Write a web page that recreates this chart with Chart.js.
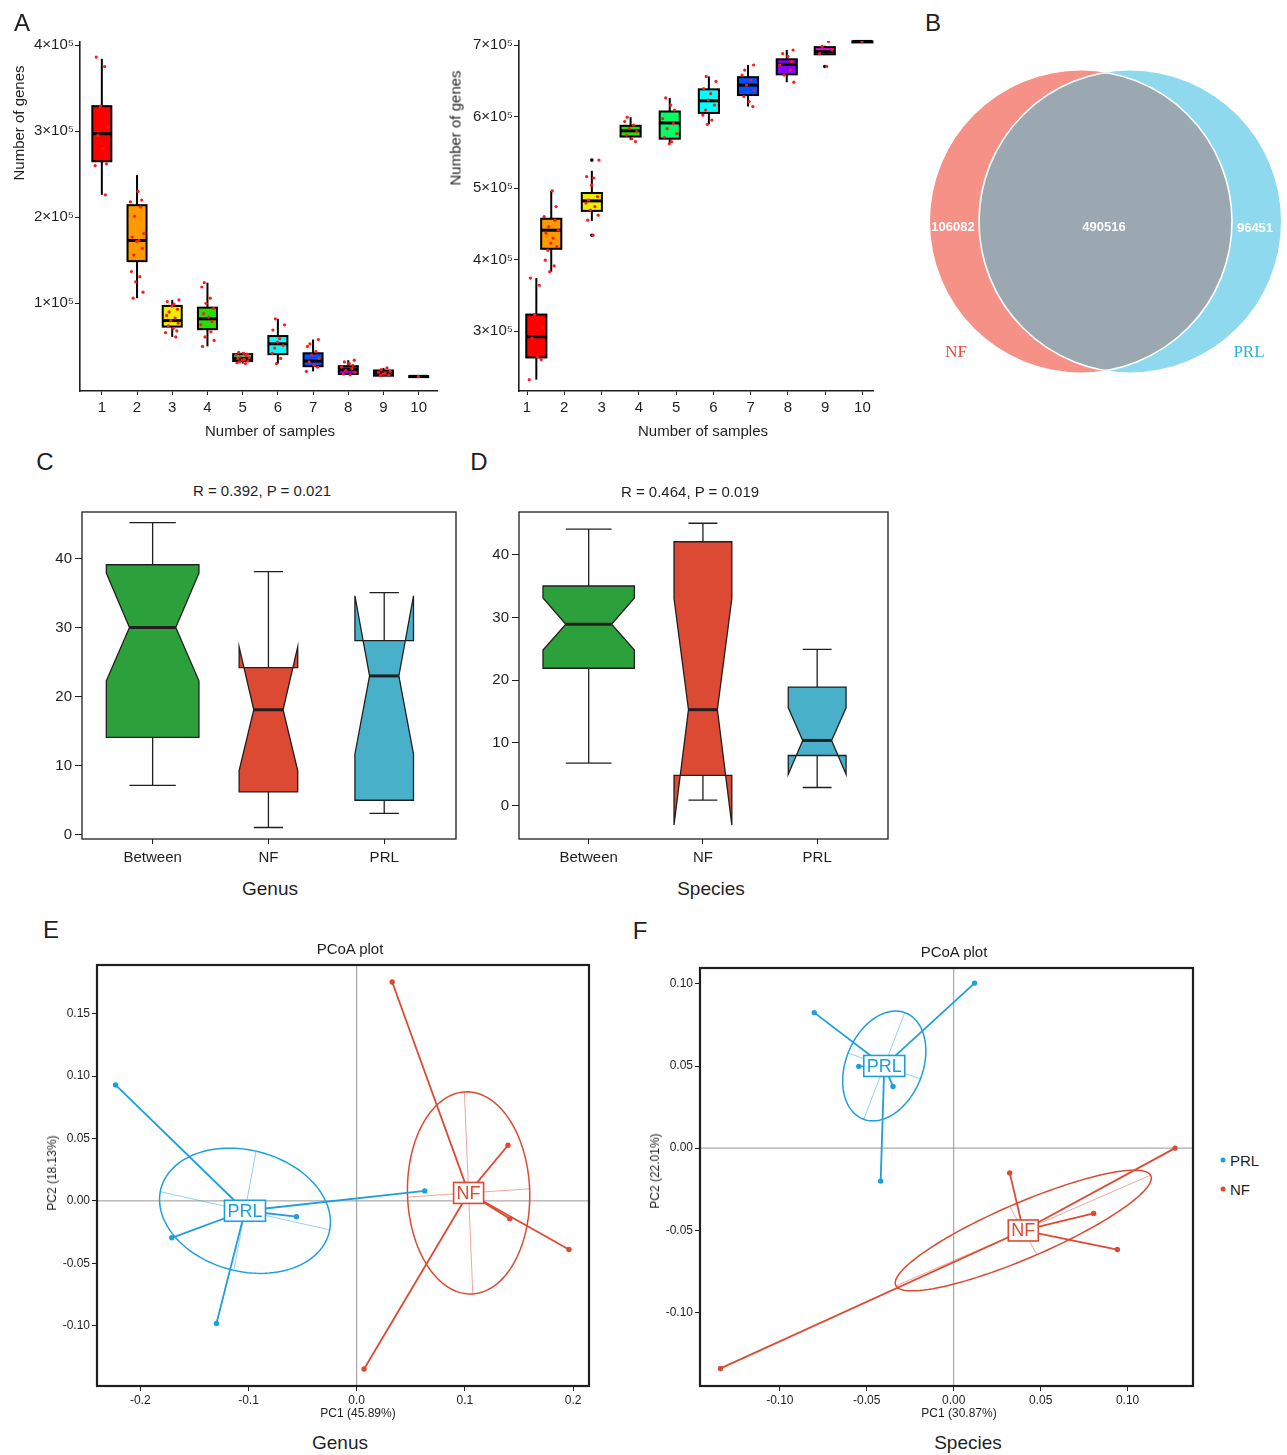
<!DOCTYPE html>
<html>
<head>
<meta charset="utf-8">
<script src="https://cdn.jsdelivr.net/npm/chart.js@4.4.1/dist/chart.umd.min.js"></script>
<style>
  body { margin: 0; background: #fff; width: 1287px; height: 1455px; position: relative; overflow: hidden;
         font-family: "Liberation Sans", Arial, sans-serif; color: #1f1f1f; }
  canvas { position: absolute; }
  .t { position: absolute; white-space: nowrap; line-height: 1; transform: translate(-50%, -50%); }
  .rot { transform: translate(-50%, -50%) rotate(-90deg); }
  .dot { position: absolute; width: 5px; height: 5px; border-radius: 50%; transform: translate(-50%, -50%); }
</style>
</head>
<body>
<canvas id="coreChart" width="445" height="395" style="left:0;top:30px"></canvas>
<canvas id="panChart" width="445" height="395" style="left:440px;top:30px"></canvas>
<canvas id="vennChart" width="372" height="375" style="left:915px;top:40px"></canvas>
<canvas id="genusBox" width="436" height="370" style="left:30px;top:500px"></canvas>
<canvas id="speciesBox" width="434" height="370" style="left:465px;top:500px"></canvas>
<canvas id="genusPcoa" width="560" height="460" style="left:40px;top:955px"></canvas>
<canvas id="speciesPcoa" width="565" height="460" style="left:640px;top:955px"></canvas>

<script>
const FONT = '"Liberation Sans", Arial, sans-serif';
const INK = '#1f1f1f';

// ---------- A: gene counts by number of samples (x 1e5) ----------
const sampleCounts = [1, 2, 3, 4, 5, 6, 7, 8, 9, 10];
const boxColors = ['#ff0000', '#ff9900', '#eeee00', '#22e000', '#00ff66', '#00ffff', '#0050ff', '#8a00ff', '#ff00ee', '#ff0099'];

// [lower whisker, q1, median, q3, upper whisker]
const coreStats = [
  [2.26, 2.65, 2.97, 3.29, 3.84], [1.06, 1.49, 1.73, 2.14, 2.49], [0.61, 0.73, 0.80, 0.97, 1.04],
  [0.50, 0.70, 0.82, 0.95, 1.24], [0.30, 0.33, 0.36, 0.41, 0.43], [0.30, 0.41, 0.53, 0.62, 0.82],
  [0.21, 0.27, 0.33, 0.42, 0.58], [0.17, 0.18, 0.23, 0.27, 0.34], [0.155, 0.16, 0.19, 0.22, 0.25],
  [0.15, 0.15, 0.152, 0.155, 0.155],
];
const coreDots = [
  [3.86, 3.75, 3.29, 3.05, 2.95, 2.80, 2.62, 2.60, 2.26],
  [2.30, 2.20, 2.18, 2.12, 2.01, 1.81, 1.77, 1.73, 1.72, 1.64, 1.56, 1.37, 1.31, 1.25, 1.13, 1.06],
  [1.04, 1.02, 0.99, 0.97, 0.93, 0.90, 0.86, 0.83, 0.80, 0.77, 0.74, 0.71, 0.68, 0.66, 0.61],
  [1.24, 1.19, 1.06, 1.00, 0.94, 0.88, 0.84, 0.79, 0.75, 0.67, 0.61, 0.57, 0.50],
  [0.43, 0.42, 0.41, 0.40, 0.39, 0.38, 0.37, 0.36, 0.35, 0.34, 0.33, 0.32, 0.31, 0.30],
  [0.82, 0.75, 0.69, 0.59, 0.55, 0.51, 0.48, 0.42, 0.36, 0.30],
  [0.58, 0.53, 0.50, 0.44, 0.40, 0.36, 0.32, 0.28, 0.26, 0.21],
  [0.34, 0.32, 0.30, 0.28, 0.26, 0.24, 0.22, 0.20, 0.18, 0.17],
  [0.25, 0.23, 0.21, 0.20, 0.19, 0.18, 0.17, 0.16],
  [0.15],
];
const coreTicks = [1e5, 2e5, 3e5, 4e5];

const panStats = [
  [2.32, 2.63, 2.92, 3.23, 3.74], [3.83, 4.15, 4.41, 4.57, 4.96], [4.54, 4.68, 4.82, 4.93, 5.24],
  [5.67, 5.72, 5.80, 5.87, 5.99], [5.62, 5.69, 5.91, 6.07, 6.26], [5.89, 6.05, 6.22, 6.38, 6.56],
  [6.14, 6.30, 6.44, 6.55, 6.72], [6.48, 6.59, 6.73, 6.80, 6.93], [6.87, 6.87, 6.91, 6.97, 6.99],
  [7.05, 7.05, 7.05, 7.05, 7.05],
];
const panAt = [1.25, 1.65, 2.74, 3.78, 4.83, 5.88, 6.93, 7.97, 8.99, 10.0];
const panOutliers = [[], [], [5.39, 4.34], [], [], [], [], [], [6.70], []];
const panDots = [
  [3.74, 3.64, 3.23, 3.05, 2.90, 2.64, 2.60, 2.32],
  [4.96, 4.74, 4.60, 4.55, 4.46, 4.41, 4.37, 4.30, 4.23, 4.18, 4.13, 3.99, 3.91, 3.83],
  [5.39, 5.16, 5.14, 5.04, 4.88, 4.83, 4.79, 4.74, 4.69, 4.62, 4.55, 4.34],
  [5.99, 5.93, 5.88, 5.83, 5.79, 5.74, 5.69, 5.65],
  [6.26, 6.16, 6.09, 5.97, 5.90, 5.83, 5.76, 5.71, 5.65, 5.62],
  [6.56, 6.49, 6.39, 6.32, 6.23, 6.16, 6.09, 6.02, 5.95, 5.89],
  [6.72, 6.65, 6.58, 6.51, 6.44, 6.37, 6.28, 6.21, 6.14],
  [6.93, 6.88, 6.84, 6.77, 6.72, 6.65, 6.58, 6.48],
  [7.05, 6.98, 6.93, 6.88, 6.70],
  [7.05],
];
const panTicks = [3e5, 4e5, 5e5, 6e5, 7e5];

// ---------- B: Venn ----------
const vennGroups = ['NF', 'PRL'];
const vennCounts = [106082, 490516, 96451]; // NF only, shared, PRL only

// ---------- C / D: notched boxes ----------
const distGroups = ['Between', 'NF', 'PRL'];
const distFills = ['#2ca03b', '#dc4a33', '#48b0c9'];
// [lower whisker, q1, notch low, median, notch high, q3, upper whisker]
const genusDist = [
  [7.15, 14.1, 22.3, 30.0, 37.9, 39.1, 45.2],
  [1.05, 6.2, 9.3, 18.1, 27.2, 24.2, 38.1],
  [3.1, 5.0, 11.7, 23.0, 34.6, 28.1, 35.05],
];
const speciesDist = [
  [6.8, 21.9, 24.8, 28.9, 33.1, 35.0, 44.05],
  [0.9, 4.85, -3.05, 15.3, 33.0, 42.05, 45.0],
  [2.9, 8.0, 5.0, 10.4, 15.6, 18.9, 24.9],
];
const distTicks = [0, 10, 20, 30, 40];
const boxHalf = [0.4, 0.253, 0.253]; // variable box widths

// ---------- E / F: PCoA ----------
const pcoaColors = { PRL: '#1d9fdc', NF: '#dc4a33' };
const genusPRL = [[-0.2229, 0.0930], [-0.1709, -0.0296], [-0.1296, -0.0983], [-0.0557, -0.0127], [0.0629, 0.0080]];
const genusNF = [[0.0328, 0.1755], [0.1398, 0.0446], [0.1415, -0.0144], [0.1962, -0.0390], [0.0068, -0.1348]];
const genusPrlAxes = [[0.0783, -0.01535], [0.01025, 0.0478]];
const genusNfAxes = [[-0.0039, 0.081], [0.0564, 0.0033]];
const speciesPRL = [[-0.0802, 0.0825], [0.0120, 0.1005], [-0.0546, 0.0498], [-0.0349, 0.0375], [-0.0420, -0.0201]];
const speciesNF = [[0.0322, -0.0151], [0.0805, -0.0398], [0.0941, -0.0618], [0.1273, 0.0], [-0.1341, -0.1342]];
const speciesPrlAxes = [[0.0118, 0.0325], [-0.0208, 0.0079]];
const speciesNfAxes = [[0.0732, 0.0337], [-0.0079, 0.0147]];
const genusXTicks = [-0.2, -0.1, 0, 0.1, 0.2];
const genusYTicks = [-0.10, -0.05, 0, 0.05, 0.10, 0.15];
const speciesXTicks = [-0.10, -0.05, 0, 0.05, 0.10];
const speciesYTicks = [-0.10, -0.05, 0, 0.05, 0.10];

// fixed horizontal spread for the sample dots
const jitter = [-0.16, 0.08, -0.04, 0.17, -0.11, 0.03, 0.13, -0.19, 0.10, -0.07, 0.19, -0.14, 0.05, -0.01, 0.15, -0.09];

// ---------- helpers ----------
function axis(pos, min, max, vals, size, font, fmt, tickLen, pad, border = true) {
  return {
    type: 'linear', position: pos, min, max,
    afterBuildTicks: s => { s.ticks = vals.map(v => ({ value: v })); },
    afterFit: s => { if (pos === 'left') s.width = size; else s.height = size; },
    grid: { drawOnChartArea: false, drawTicks: true, tickLength: tickLen, tickColor: INK, tickWidth: 1, color: INK },
    border: { display: border, color: INK, width: 1.6 },
    ticks: { autoSkip: false, maxRotation: 0, color: INK, padding: pad, font: { family: FONT, size: font }, callback: fmt },
  };
}

function opts(padding, x, y) {
  return {
    responsive: false, animation: false, devicePixelRatio: 1,
    layout: { padding },
    plugins: { legend: { display: false }, tooltip: { enabled: false } },
    scales: { x, y },
  };
}

function frame(width) {
  return {
    id: 'frame',
    afterDraw(chart) {
      const { ctx, chartArea: a } = chart;
      ctx.save();
      ctx.strokeStyle = INK; ctx.lineWidth = width;
      ctx.strokeRect(a.left, a.top, a.right - a.left, a.bottom - a.top);
      ctx.restore();
    },
  };
}

function rainbowBoxes(stats, at, outliers) {
  return {
    id: 'rainbowBoxes',
    beforeDatasetsDraw(chart) {
      const { ctx, scales: { x, y } } = chart;
      ctx.save();
      stats.forEach((s, i) => {
        const [lo, q1, md, q3, hi] = s.map(v => y.getPixelForValue(v * 1e5));
        const xl = x.getPixelForValue(at[i] - 0.27), xr = x.getPixelForValue(at[i] + 0.27);
        const xc = x.getPixelForValue(at[i]);
        ctx.strokeStyle = '#000'; ctx.lineWidth = 2;
        ctx.beginPath(); ctx.moveTo(xc, hi); ctx.lineTo(xc, lo); ctx.stroke();
        ctx.fillStyle = boxColors[i];
        ctx.fillRect(xl, q3, xr - xl, q1 - q3);
        ctx.strokeRect(xl, q3, xr - xl, Math.max(q1 - q3, 1));
        ctx.lineWidth = 3;
        ctx.beginPath(); ctx.moveTo(xl, md); ctx.lineTo(xr, md); ctx.stroke();
        ctx.fillStyle = '#000';
        (outliers[i] || []).forEach(v => {
          ctx.beginPath(); ctx.arc(xc, y.getPixelForValue(v * 1e5), 1.8, 0, Math.PI * 2); ctx.fill();
        });
      });
      ctx.restore();
    },
  };
}

function dotData(dots, at) {
  return dots.flatMap((vals, i) => vals.map((v, j) => ({ x: at[i] + jitter[(j + i * 5) % jitter.length], y: v * 1e5 })));
}

function geneChart(id, stats, at, dots, outliers, ticks, xr, yr, yWidth, pad) {
  new Chart(document.getElementById(id), {
    type: 'scatter',
    data: {
      datasets: [{
        data: dotData(dots, at),
        pointRadius: 1.6, pointBackgroundColor: '#ff1a1a', pointBorderWidth: 0,
      }],
    },
    options: opts(pad,
      axis('bottom', xr[0], xr[1], sampleCounts, 34, 15, v => v, 4, 4),
      axis('left', yr[0], yr[1], ticks, yWidth, 15, v => `${Math.round(v / 1e5)}×10⁵`, 5, 1)),
    plugins: [rainbowBoxes(stats, at, outliers)],
  });
}

geneChart('coreChart', coreStats, sampleCounts, coreDots, [], coreTicks, [0.38, 10.52], [-1800, 403500], 80,
  { top: 12, right: 8, left: 0, bottom: 0 });
geneChart('panChart', panStats, panAt, panDots, panOutliers, panTicks, [0.785, 10.284], [216100, 705600], 79,
  { top: 11, right: 12, left: 0, bottom: 0 });

// ---------- B ----------
const venn = {
  id: 'venn',
  afterDraw(chart) {
    const { ctx, scales: { x, y } } = chart;
    const r = x.getPixelForValue(151) - x.getPixelForValue(0);
    const cy = y.getPixelForValue(181.5);
    const nf = x.getPixelForValue(166), prl = x.getPixelForValue(215);
    const circle = cx => { ctx.beginPath(); ctx.arc(cx, cy, r, 0, Math.PI * 2); };
    ctx.save();
    ctx.fillStyle = '#f59186'; circle(nf); ctx.fill();
    ctx.fillStyle = '#8fd9ee'; circle(prl); ctx.fill();
    ctx.save(); circle(nf); ctx.clip();
    ctx.fillStyle = '#9ba8b1'; circle(prl); ctx.fill();
    ctx.strokeStyle = '#fff'; ctx.lineWidth = 1.6; circle(prl); ctx.stroke();
    ctx.restore();
    ctx.save(); circle(prl); ctx.clip();
    ctx.strokeStyle = '#fff'; ctx.lineWidth = 1.6; circle(nf); ctx.stroke();
    ctx.restore();
    ctx.fillStyle = '#fff'; ctx.font = `bold 13px ${FONT}`;
    ctx.textAlign = 'center'; ctx.textBaseline = 'middle';
    ctx.fillText(String(vennCounts[0]), x.getPixelForValue(38), y.getPixelForValue(187));
    ctx.fillText(String(vennCounts[1]), x.getPixelForValue(189), y.getPixelForValue(187));
    ctx.fillText(String(vennCounts[2]), x.getPixelForValue(340), y.getPixelForValue(188));
    ctx.font = '17px "Liberation Serif", "DejaVu Serif", serif';
    ctx.fillStyle = '#e8493b';
    ctx.fillText(vennGroups[0], x.getPixelForValue(41), y.getPixelForValue(313));
    ctx.fillStyle = '#2cb3d8';
    ctx.fillText(vennGroups[1], x.getPixelForValue(334), y.getPixelForValue(313));
    ctx.restore();
  },
};
new Chart(document.getElementById('vennChart'), {
  type: 'scatter',
  data: { datasets: [] },
  options: opts(0, { display: false, min: 0, max: 372 }, { display: false, min: 0, max: 375, reverse: true }),
  plugins: [venn],
});

// ---------- C / D ----------
function notchedBoxes(stats) {
  return {
    id: 'notched',
    beforeDatasetsDraw(chart) {
      const { ctx, scales: { x, y } } = chart;
      ctx.save();
      ctx.strokeStyle = '#231f20';
      stats.forEach((s, i) => {
        const c = i + 1, w = boxHalf[i], n = w / 2;
        const [wl, q1, nl, md, nu, q3, wh] = s.map(v => y.getPixelForValue(v));
        const X = d => x.getPixelForValue(c + d);
        ctx.lineWidth = 1.3;
        ctx.beginPath();
        ctx.moveTo(X(-w), q3); ctx.lineTo(X(-w), nu); ctx.lineTo(X(-n), md); ctx.lineTo(X(-w), nl);
        ctx.lineTo(X(-w), q1); ctx.lineTo(X(w), q1); ctx.lineTo(X(w), nl); ctx.lineTo(X(n), md);
        ctx.lineTo(X(w), nu); ctx.lineTo(X(w), q3); ctx.closePath();
        ctx.fillStyle = distFills[i]; ctx.fill(); ctx.stroke();
        ctx.beginPath();
        ctx.moveTo(X(0), q3); ctx.lineTo(X(0), wh); ctx.moveTo(X(-n), wh); ctx.lineTo(X(n), wh);
        ctx.moveTo(X(0), q1); ctx.lineTo(X(0), wl); ctx.moveTo(X(-n), wl); ctx.lineTo(X(n), wl);
        ctx.stroke();
        ctx.lineWidth = 3;
        ctx.beginPath(); ctx.moveTo(X(-n), md); ctx.lineTo(X(n), md); ctx.stroke();
      });
      ctx.restore();
    },
  };
}

function distChart(id, stats, yr, yWidth, pad) {
  new Chart(document.getElementById(id), {
    type: 'scatter',
    data: { datasets: [{ data: stats.map((s, i) => ({ x: i + 1, y: s[3] })), pointRadius: 0 }] },
    options: opts(pad,
      axis('bottom', 0.39, 3.62, [1, 2, 3], 31, 15, v => distGroups[v - 1], 5, 5, false),
      axis('left', yr[0], yr[1], distTicks, yWidth, 15, v => v, 7, 3, false)),
    plugins: [notchedBoxes(stats), frame(1.3)],
  });
}
distChart('genusBox', genusDist, [-0.615, 46.74], 52, { top: 8, right: 10, left: 0, bottom: 0 });
distChart('speciesBox', speciesDist, [-5.30, 46.79], 54, { top: 9, right: 11, left: 0, bottom: 0 });

// ---------- E / F ----------
function centroid(pts) {
  return [pts.reduce((a, p) => a + p[0], 0) / pts.length, pts.reduce((a, p) => a + p[1], 0) / pts.length];
}

function spokes(pts, color) {
  const c = centroid(pts);
  return pts.map(p => ({
    data: [{ x: c[0], y: c[1] }, { x: p[0], y: p[1] }],
    showLine: true, borderColor: color, borderWidth: 1.8,
    pointRadius: [0, 2.7], pointBackgroundColor: color, pointBorderWidth: 0,
  }));
}

function pcoaLayer(groups) {
  return {
    id: 'pcoaLayer',
    beforeDatasetsDraw(chart) {
      const { ctx, chartArea: a, scales: { x, y } } = chart;
      ctx.save();
      ctx.strokeStyle = '#8a8a8a'; ctx.lineWidth = 0.9;
      ctx.beginPath();
      ctx.moveTo(x.getPixelForValue(0), a.top); ctx.lineTo(x.getPixelForValue(0), a.bottom);
      ctx.moveTo(a.left, y.getPixelForValue(0)); ctx.lineTo(a.right, y.getPixelForValue(0));
      ctx.stroke();
      groups.forEach(g => {
        const [cx, cy] = centroid(g.pts);
        const [u, v] = g.axes;
        const P = (s, t) => [x.getPixelForValue(cx + u[0] * s + v[0] * t), y.getPixelForValue(cy + u[1] * s + v[1] * t)];
        ctx.strokeStyle = g.color; ctx.lineWidth = 1.5;
        ctx.beginPath();
        for (let k = 0; k <= 120; k++) {
          const th = (k / 120) * Math.PI * 2;
          const [px, py] = P(Math.cos(th), Math.sin(th));
          if (k === 0) ctx.moveTo(px, py); else ctx.lineTo(px, py);
        }
        ctx.closePath(); ctx.stroke();
        ctx.globalAlpha = 0.6; ctx.lineWidth = 0.8;
        ctx.beginPath();
        ctx.moveTo(...P(-1, 0)); ctx.lineTo(...P(1, 0));
        ctx.moveTo(...P(0, -1)); ctx.lineTo(...P(0, 1));
        ctx.stroke();
        ctx.globalAlpha = 1;
      });
      ctx.restore();
    },
    afterDatasetsDraw(chart) {
      const { ctx, scales: { x, y } } = chart;
      ctx.save();
      ctx.font = `18px ${FONT}`; ctx.textAlign = 'center'; ctx.textBaseline = 'middle';
      groups.forEach(g => {
        const [cx, cy] = centroid(g.pts);
        const px = x.getPixelForValue(cx), py = y.getPixelForValue(cy);
        const w = ctx.measureText(g.name).width + 6, h = 21;
        ctx.fillStyle = '#fff'; ctx.fillRect(px - w / 2, py - h / 2, w, h);
        ctx.strokeStyle = g.color; ctx.lineWidth = 1.6; ctx.strokeRect(px - w / 2, py - h / 2, w, h);
        ctx.fillStyle = g.color; ctx.fillText(g.name, px, py + 1);
      });
      ctx.restore();
    },
  };
}

function pcoaChart(id, prl, nf, prlAxes, nfAxes, xr, yr, xt, yt, xDigits, yWidth, pad) {
  new Chart(document.getElementById(id), {
    type: 'scatter',
    data: { datasets: [...spokes(prl, pcoaColors.PRL), ...spokes(nf, pcoaColors.NF)] },
    options: {
      ...opts(pad,
        axis('bottom', xr[0], xr[1], xt, 29, 12, v => v.toFixed(xDigits), 5, 2, false),
        axis('left', yr[0], yr[1], yt, yWidth, 12, v => v.toFixed(2), 5, 2, false)),
      elements: { line: { tension: 0 } },
    },
    plugins: [pcoaLayer([
      { name: 'PRL', pts: prl, axes: prlAxes, color: pcoaColors.PRL },
      { name: 'NF', pts: nf, axes: nfAxes, color: pcoaColors.NF },
    ]), frame(2.2)],
  });
}
pcoaChart('genusPcoa', genusPRL, genusNF, genusPrlAxes, genusNfAxes, [-0.240, 0.2147], [-0.1484, 0.1891],
  genusXTicks, genusYTicks, 1, 57, { top: 10, right: 11, left: 0, bottom: 0 });
pcoaChart('speciesPcoa', speciesPRL, speciesNF, speciesPrlAxes, speciesNfAxes, [-0.1459, 0.1376], [-0.1449, 0.1097],
  speciesXTicks, speciesYTicks, 2, 60, { top: 13, right: 12, left: 0, bottom: 0 });

// ---------- text ----------
function text(str, x, y, size, extra = {}) {
  const d = document.createElement('div');
  d.className = 't' + (extra.rot ? ' rot' : '');
  d.textContent = str;
  d.style.left = x + 'px'; d.style.top = y + 'px'; d.style.fontSize = size + 'px';
  if (extra.color) d.style.color = extra.color;
  if (extra.left) { d.style.transform = 'translate(0, -50%)'; }
  document.body.appendChild(d);
}
[['A', 22, 23], ['B', 933, 23], ['C', 45, 462], ['D', 479, 462], ['E', 51, 930], ['F', 640, 931]]
  .forEach(([s, x, y]) => text(s, x, y, 24));
text('Number of genes', 18, 123, 15, { rot: true });
text('Number of genes', 455, 128, 15, { rot: true });
text('Number of samples', 270, 430, 15);
text('Number of samples', 703, 430, 15);
text('R = 0.392, P = 0.021', 262, 490, 15);
text('R = 0.464, P = 0.019', 690, 491, 15);
text('Genus', 270, 888, 19);
text('Species', 711, 888, 19);
text('PCoA plot', 350, 948, 15);
text('PCoA plot', 954, 951, 15);
text('PC1 (45.89%)', 358, 1413, 12);
text('PC1 (30.87%)', 959, 1413, 12);
text('PC2 (18.13%)', 52, 1173, 12, { rot: true });
text('PC2 (22.01%)', 655, 1171, 12, { rot: true });
text('Genus', 340, 1442, 19);
text('Species', 968, 1442, 19);
[['PRL', 1160], ['NF', 1189]].forEach(([name, y]) => {
  const d = document.createElement('div');
  d.className = 'dot'; d.style.left = '1223px'; d.style.top = y + 'px'; d.style.background = pcoaColors[name];
  document.body.appendChild(d);
  text(name, 1230, y, 15, { left: true });
});
</script>
</body>
</html>
